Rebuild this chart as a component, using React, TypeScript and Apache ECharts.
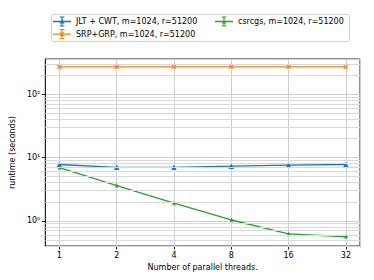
import React, { useEffect, useRef } from "react";
import * as echarts from "echarts";

const THREADS = [1, 2, 4, 8, 16, 32];
const JLT_CWT = [7.75, 7.0, 7.0, 7.3, 7.6, 7.75];
const SRP_GRP = [270, 270, 270, 270, 270, 270];
const CSRCGS = [6.95, 3.6, 1.9, 1.03, 0.62, 0.56];
const MINOR_Y = [0.4, 0.5, 0.6, 0.7, 0.8, 0.9, 2, 3, 4, 5, 6, 7, 8, 9, 20, 30, 40, 50, 60, 70, 80, 90, 200, 300];
const SUP: Record<string, string> = { "-1": "⁻¹", "0": "⁰", "1": "¹", "2": "²", "3": "³" };

const NAMES = ["JLT + CWT, m=1024, r=51200", "SRP+GRP, m=1024, r=51200", "csrcgs, m=1024, r=51200"];
const COLORS = ["#1f77b4", "#ff7f0e", "#2ca02c"];
const FONT = "DejaVu Sans";

const STAR_PTS = [[50, 0], [61, 35], [98, 35], [68, 57], [79, 91], [50, 70], [21, 91], [32, 57], [2, 35], [39, 35]];
const STAR = "path://M" + STAR_PTS.map((p) => p.join(",")).join(" L") + " Z";
const XMARK = "path://M0,0 L10,10 M10,0 L0,10";

// legend icon pieces in an 18x10 box: line + error bar with caps
const rect = (x0: number, y0: number, x1: number, y1: number) => `M${x0},${y0} L${x1},${y0} L${x1},${y1} L${x0},${y1} Z`;
const ERRBAR = rect(0, 4.35, 18, 5.65) + " " + rect(8.4, 0, 9.6, 10) + " " + rect(6.6, 0, 11.4, 1.1) + " " + rect(6.6, 8.9, 11.4, 10);
const ICON_TRI = "M9,2.3 L11.7,6.9 L6.3,6.9 Z";
const ICON_X = "M6.6,3.2 L7.2,2.6 L11.4,6.8 L10.8,7.4 Z M10.8,2.6 L11.4,3.2 L7.2,7.4 L6.6,6.8 Z";
const ICON_STAR = "M" + STAR_PTS.map((p) => [(9 + (p[0] - 50) * 0.065).toFixed(2), (5 + (p[1] - 48) * 0.065).toFixed(2)].join(",")).join(" L") + " Z";
const ICONS = ["path://" + ERRBAR + " " + ICON_TRI, "path://" + ERRBAR + " " + ICON_X, "path://" + ERRBAR + " " + ICON_STAR];

export default function App() {
  const ref = useRef<HTMLDivElement>(null);
  useEffect(() => {
    if (!ref.current) return;
    const chart = echarts.init(ref.current, null, { renderer: "svg" });
    const pairs = (ys: number[]) => THREADS.map((t, i) => [t, ys[i]]);
    const mk = (i: number, ys: number[], symbol: string, size: number, extra: any = {}) => ({
      name: NAMES[i],
      type: "line",
      data: pairs(ys),
      symbol,
      symbolSize: size,
      showSymbol: true,
      lineStyle: { color: COLORS[i], width: 1.3 },
      itemStyle: { color: COLORS[i], borderColor: COLORS[i], borderWidth: 0, ...extra },
      z: 3,
    });
    const legendText = { fontSize: 8, fontFamily: FONT, color: "#000" };
    chart.setOption({
      animation: false,
      textStyle: { fontFamily: FONT },
      grid: { left: 41, right: 14, top: 59, bottom: 34, show: true, borderColor: "#222", borderWidth: 1, containLabel: false },
      legend: [
        {
          data: [
            { name: NAMES[0], icon: ICONS[0], itemStyle: { color: COLORS[0], borderWidth: 0 } },
            { name: NAMES[1], icon: ICONS[1], itemStyle: { color: COLORS[1], borderWidth: 0 } },
          ],
          orient: "vertical",
          left: 53,
          top: 16.5,
          padding: 0,
          itemGap: 2.6,
          itemWidth: 18,
          itemHeight: 10,
          textStyle: legendText,
        },
        {
          data: [{ name: NAMES[2], icon: ICONS[2], itemStyle: { color: COLORS[2], borderWidth: 0 } }],
          orient: "vertical",
          left: 215,
          top: 16.5,
          padding: 0,
          itemWidth: 18,
          itemHeight: 10,
          textStyle: legendText,
        },
      ],
      graphic: [
        {
          type: "rect",
          shape: { x: 51.5, y: 14.5, width: 298, height: 27, r: 2 },
          style: { fill: "rgba(255,255,255,0.8)", stroke: "#d0d0d0", lineWidth: 1 },
          z: -1,
        },
      ],
      xAxis: {
        type: "log",
        logBase: 2,
        min: 0.843,
        max: 37.96,
        name: "Number of parallel threads.",
        nameLocation: "middle",
        nameGap: 15,
        nameTextStyle: { fontSize: 8, color: "#000", fontFamily: FONT },
        axisLine: { show: true, lineStyle: { color: "#222", width: 1 } },
        axisTick: { show: true, length: 3.5, lineStyle: { color: "#222" } },
        axisLabel: { fontSize: 8, color: "#000", margin: 5, showMinLabel: false, showMaxLabel: false, fontFamily: FONT },
        splitLine: { show: true, lineStyle: { color: "#cfcfcf", width: 1 } },
      },
      yAxis: {
        type: "log",
        logBase: 10,
        min: 0.4,
        max: 360,
        name: "runtime (seconds)",
        nameLocation: "middle",
        nameGap: 23,
        nameTextStyle: { fontSize: 8, color: "#000", fontFamily: FONT },
        axisLine: { show: true, lineStyle: { color: "#222", width: 1 } },
        axisTick: { show: true, length: 3.5, lineStyle: { color: "#222" } },
        axisLabel: {
          fontSize: 8,
          color: "#000",
          margin: 5,
          fontFamily: FONT,
          showMinLabel: false,
          showMaxLabel: false,
          formatter: (v: number) => {
            const e = Math.round(Math.log10(v));
            if (Math.abs(Math.log10(v) - e) > 1e-6) return "";
            return "10" + (SUP[String(e)] || "");
          },
        },
        splitLine: { show: true, lineStyle: { color: "#cfcfcf", width: 1 } },
      },
      series: [
        mk(0, JLT_CWT, "triangle", 5.5),
        mk(1, SRP_GRP, XMARK, 4, { borderWidth: 1.2, color: "none" }),
        mk(2, CSRCGS, STAR, 5.5),
        {
          type: "line",
          data: [],
          silent: true,
          markLine: {
            silent: true,
            symbol: "none",
            label: { show: false },
            lineStyle: { color: "#dadada", width: 1, type: "solid" },
            data: MINOR_Y.map((v) => ({ yAxis: v })),
          },
          z: 1,
        },
      ],
    });
    return () => chart.dispose();
  }, []);
  return <div ref={ref} style={{ width: 374, height: 280, margin: -8 }} />;
}
